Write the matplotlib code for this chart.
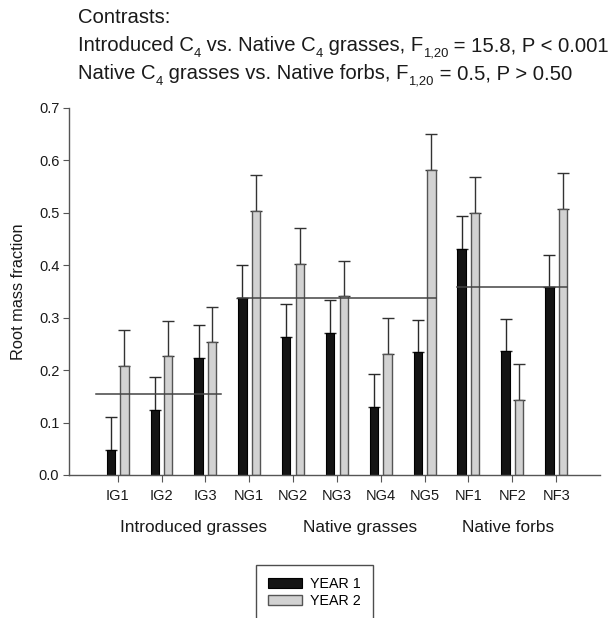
import matplotlib
matplotlib.use("Agg")
import matplotlib.pyplot as plt
import numpy as np
from matplotlib.patches import Patch

plt.rcParams['font.family'] = ['Liberation Sans', 'DejaVu Sans']

# ---- data ----
categories = ["IG1", "IG2", "IG3", "NG1", "NG2", "NG3", "NG4", "NG5", "NF1", "NF2", "NF3"]
year1 = [0.048, 0.124, 0.223, 0.338, 0.263, 0.271, 0.130, 0.234, 0.430, 0.236, 0.358]
year1_err = [0.062, 0.063, 0.062, 0.063, 0.063, 0.062, 0.062, 0.062, 0.063, 0.062, 0.061]
year2 = [0.208, 0.226, 0.254, 0.503, 0.402, 0.342, 0.231, 0.582, 0.499, 0.143, 0.507]
year2_err = [0.069, 0.068, 0.067, 0.068, 0.068, 0.066, 0.069, 0.068, 0.068, 0.068, 0.068]
group_names = ["Introduced grasses", "Native grasses", "Native forbs"]
group_label_x = [1.72, 5.53, 8.91]
group_means = [0.154, 0.338, 0.359]
group_line_start = [-0.50, 2.75, 7.75]
group_line_end = [2.35, 7.27, 10.25]
series_names = ["YEAR 1", "YEAR 2"]
yticks = [0.0, 0.1, 0.2, 0.3, 0.4, 0.5, 0.6, 0.7]
header_lines = [
    [("Contrasts:", False)],
    [("Introduced C", False), ("4", True), (" vs. Native C", False), ("4", True),
     (" grasses, F", False), ("1,20", True), (" = 15.8, P < 0.001", False)],
    [("Native C", False), ("4", True), (" grasses vs. Native forbs, F", False), ("1,20", True),
     (" = 0.5, P > 0.50", False)],
]

fig = plt.figure(figsize=(6.13, 6.18), dpi=100)
ax = fig.add_axes([69/613, 1-475/618, (600-69)/613, (475-107.7)/618])

x = np.arange(len(categories))
w = 0.19
off = 0.155
ax.bar(x - off, year1, width=w, color='#141414', edgecolor='#000000', linewidth=0.8, zorder=2)
ax.bar(x + off, year2, width=w, color='#d2d2d2', edgecolor='#555555', linewidth=1.0, zorder=2)
ax.errorbar(x - off, year1, yerr=[np.zeros(len(x)), year1_err], fmt='none',
            ecolor='#2a2a2a', elinewidth=1.0, capsize=4, capthick=1.0, zorder=1)
ax.errorbar(x + off, year2, yerr=[np.zeros(len(x)), year2_err], fmt='none',
            ecolor='#333333', elinewidth=1.0, capsize=4, capthick=1.0, zorder=1)

for m, s, e in zip(group_means, group_line_start, group_line_end):
    ax.plot([s, e], [m, m], color='#444444', lw=1.1, zorder=3)

ax.set_xlim(-1.11, 11.0)
ax.set_ylim(0, 0.7)
ax.set_yticks(yticks)
ax.set_yticklabels([f"{t:.1f}" for t in yticks])
ax.set_xticks(x)
ax.set_xticklabels(categories)
ax.tick_params(axis='both', labelsize=10.5, labelcolor='#1a1a1a', direction='out')
ax.tick_params(axis='x', length=5, pad=5, color='#555555')
ax.tick_params(axis='y', length=4, pad=3, color='#555555')
for sp in ['top', 'right']:
    ax.spines[sp].set_visible(False)
for sp in ['left', 'bottom']:
    ax.spines[sp].set_color('#555555')
    ax.spines[sp].set_linewidth(1.0)

ax.set_ylabel("Root mass fraction", fontsize=11.8, color='#1a1a1a', labelpad=9)

for name, gx in zip(group_names, group_label_x):
    ax.text(gx, -0.1416, name, transform=ax.get_xaxis_transform(), ha='center', va='center',
            fontsize=12.4, color='#1a1a1a')

# header with manual subscripts
renderer = fig.canvas.get_renderer()
fs = 14.6
sub_fs = fs * 0.64
sub_drop = 6.0  # pixels
baselines = [23, 51, 79]
for parts, base in zip(header_lines, baselines):
    xpix = 78.0
    for txt, is_sub in parts:
        ypix = base + (sub_drop if is_sub else 0)
        t = fig.text(xpix / 613, 1 - ypix / 618, txt, fontsize=sub_fs if is_sub else fs,
                     color='#1a1a1a', va='baseline', ha='left')
        bb = t.get_window_extent(renderer=renderer)
        xpix += bb.width

handles = [Patch(facecolor='#141414', edgecolor='#000000', linewidth=0.8),
           Patch(facecolor='#d2d2d2', edgecolor='#555555', linewidth=1.0)]
leg = fig.legend(handles, series_names, loc='upper left', bbox_to_anchor=(256/613, 1-565/618),
                 fontsize=10.3, frameon=True, fancybox=False, edgecolor='#222222',
                 handlelength=2.35, handleheight=0.7, handletextpad=0.6, labelspacing=0.2,
                 borderpad=0.85, borderaxespad=0)
leg.get_frame().set_linewidth(1.0)

fig.savefig("out.png", dpi=100)
